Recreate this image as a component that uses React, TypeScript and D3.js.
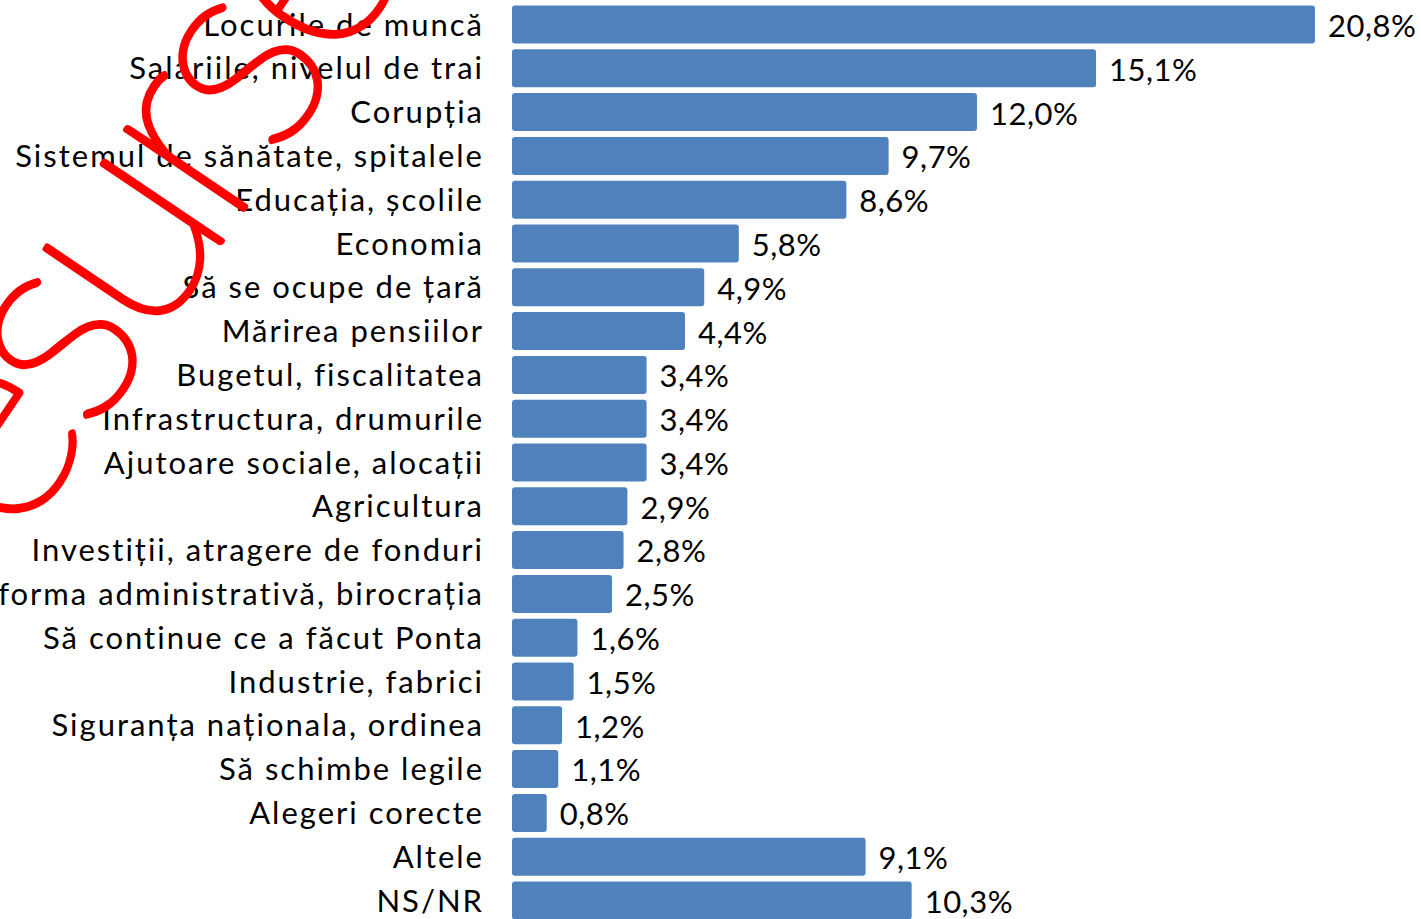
import React from "react";
import * as d3 from "d3";

const categories = [
  "Locurile de muncă",
  "Salariile, nivelul de trai",
  "Corupția",
  "Sistemul de sănătate, spitalele",
  "Educația, școlile",
  "Economia",
  "Să se ocupe de țară",
  "Mărirea pensiilor",
  "Bugetul, fiscalitatea",
  "Infrastructura, drumurile",
  "Ajutoare sociale, alocații",
  "Agricultura",
  "Investiții, atragere de fonduri",
  "Reforma administrativă, birocrația",
  "Să continue ce a făcut Ponta",
  "Industrie, fabrici",
  "Siguranța naționala, ordinea",
  "Să schimbe legile",
  "Alegeri corecte",
  "Altele",
  "NS/NR",
];

const values = [20.8, 15.1, 12.0, 9.7, 8.6, 5.8, 4.9, 4.4, 3.4, 3.4, 3.4, 2.9, 2.8, 2.5, 1.6, 1.5, 1.2, 1.1, 0.8, 9.1, 10.3];

const watermarkText = "resurse";

const W = 1421;
const H = 919;
const FONT = "Lato, 'Open Sans', sans-serif";

export default function App() {
  const y = d3.scaleBand<string>().domain(categories).range([5.5, 919.5]).paddingInner(0.132).paddingOuter(0);
  const x = d3.scaleLinear().domain([0, 20.8]).range([516, 1315]);
  const bw = y.bandwidth();
  const fmt = (v: number) => d3.format(".1f")(v).replace(".", ",") + "%";
  const barStart = x(0) - 4;

  return (
    <svg width={W} height={H} style={{ position: "absolute", left: 0, top: 0, background: "#fff" }}>
      <g>
        {categories.map((c, i) => (
          <rect key={c} x={barStart} y={y(c)} width={x(values[i]) - barStart} height={bw} rx={3} fill="#4F81BD" />
        ))}
      </g>
      <g fontFamily={FONT} fontSize={31} fill="#000">
        {categories.map((c) => (
          <text key={c} x={484} y={(y(c) as number) + bw / 2} dy="0.36em" textAnchor="end" letterSpacing={2}>
            {c}
          </text>
        ))}
        {categories.map((c, i) => (
          <text key={c + "v"} x={x(values[i]) + 13} y={(y(c) as number) + bw / 2} dy="0.4em" textAnchor="start" letterSpacing={0.5}>
            {fmt(values[i])}
          </text>
        ))}
      </g>
      <text
        x={191}
        y={287}
        transform="rotate(-56 191 287)"
        textAnchor="middle"
        fontFamily="Lato, sans-serif"
        fontWeight={100}
        fontSize={290}
        letterSpacing={-15}
        fill="#FF0000"
        stroke="#FF0000"
        strokeWidth={5.5}
        strokeLinejoin="round"
        strokeLinecap="round"
      >
        {watermarkText}
      </text>
    </svg>
  );
}
